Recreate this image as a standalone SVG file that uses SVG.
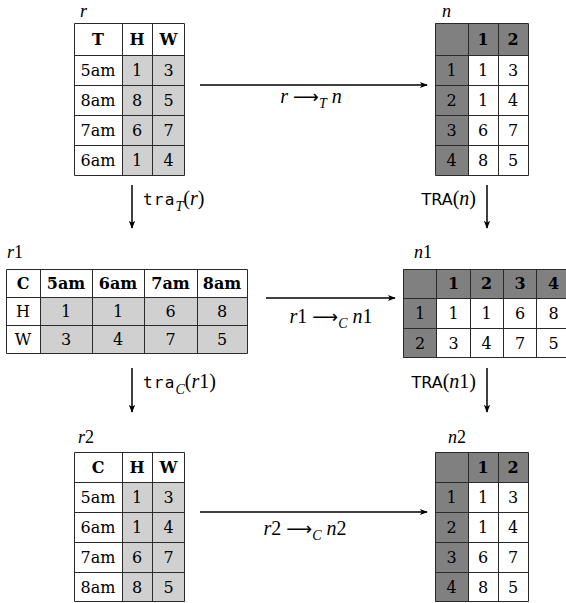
<svg xmlns="http://www.w3.org/2000/svg" width="566" height="603" viewBox="0 0 566 603">
<style>
.bg{fill:#ffffff}
.lt{fill:#d0d0d0}
.dk{fill:#808080}
.grid{fill:none;stroke:#2a2a2a;stroke-width:1}
.c{font-family:"DejaVu Serif","Liberation Serif",serif;font-size:16px;fill:#000;text-anchor:middle}
.b{font-weight:bold}
.m{font-family:"Liberation Serif","DejaVu Serif",serif;font-size:20px;fill:#000}
.i{font-style:italic}
.sub{font-size:14px;font-style:italic}
.ar{font-family:"DejaVu Sans",sans-serif;font-size:18px}
.sf{font-family:"DejaVu Sans","Liberation Sans",sans-serif;font-size:16px}
.tt{font-family:"DejaVu Sans Mono","Liberation Mono",monospace;font-size:16px;letter-spacing:1.2px}
.arr{stroke:#000;stroke-width:1.5;fill:none}
</style>
<defs>
<marker id="ah" viewBox="0 0 10 10" refX="9" refY="5" markerWidth="8" markerHeight="8" markerUnits="userSpaceOnUse" orient="auto">
<path d="M0,1 L10,5 L0,9 L2.5,5 Z" fill="#000"/>
</marker>
</defs>

<g id="r">
<text class="m i" x="80" y="17" style="font-size:18px">r</text>
<rect class="bg" x="74" y="23" width="111" height="152"/>
<rect class="lt" x="122" y="55" width="63" height="120"/>
<path class="grid" d="M74.5,23.5H184.5V175.5H74.5Z M74.5,55.5H184.5 M74.5,85.5H184.5 M74.5,115.5H184.5 M74.5,145.5H184.5 M122.5,23.5V175.5 M152.5,23.5V175.5"/>
<text class="c b" x="98" y="45">T</text><text class="c b" x="137" y="45">H</text><text class="c b" x="168.5" y="45">W</text>
<text class="c" x="98" y="76">5am</text><text class="c" x="137" y="76">1</text><text class="c" x="168.5" y="76">3</text>
<text class="c" x="98" y="106">8am</text><text class="c" x="137" y="106">8</text><text class="c" x="168.5" y="106">5</text>
<text class="c" x="98" y="136">7am</text><text class="c" x="137" y="136">6</text><text class="c" x="168.5" y="136">7</text>
<text class="c" x="98" y="166">6am</text><text class="c" x="137" y="166">1</text><text class="c" x="168.5" y="166">4</text>
</g>

<g id="n">
<text class="m i" x="442" y="17" style="font-size:18px">n</text>
<rect class="bg" x="435" y="23" width="93" height="152"/>
<rect class="dk" x="435" y="23" width="93" height="32"/>
<rect class="dk" x="435" y="55" width="33" height="120"/>
<path class="grid" d="M435.5,23.5H528.5V175.5H435.5Z M435.5,55.5H528.5 M435.5,85.5H528.5 M435.5,115.5H528.5 M435.5,145.5H528.5 M468.5,23.5V175.5 M498.5,23.5V175.5"/>
<text class="c b" x="483" y="45">1</text><text class="c b" x="513" y="45">2</text>
<text class="c" x="451.5" y="76">1</text><text class="c" x="483" y="76">1</text><text class="c" x="513" y="76">3</text>
<text class="c" x="451.5" y="106">2</text><text class="c" x="483" y="106">1</text><text class="c" x="513" y="106">4</text>
<text class="c" x="451.5" y="136">3</text><text class="c" x="483" y="136">6</text><text class="c" x="513" y="136">7</text>
<text class="c" x="451.5" y="166">4</text><text class="c" x="483" y="166">8</text><text class="c" x="513" y="166">5</text>
</g>

<g id="r1">
<text class="m" x="7" y="258" style="font-size:18px"><tspan class="i">r</tspan>1</text>
<rect class="bg" x="6" y="269" width="241" height="84"/>
<rect class="lt" x="40" y="297" width="207" height="56"/>
<path class="grid" d="M6.5,269.5H247.5V353.5H6.5Z M6.5,297.5H247.5 M6.5,325.5H247.5 M40.5,269.5V353.5 M92.5,269.5V353.5 M144.5,269.5V353.5 M197.5,269.5V353.5"/>
<text class="c b" x="23" y="289">C</text><text class="c b" x="66" y="289">5am</text><text class="c b" x="118" y="289">6am</text><text class="c b" x="170.5" y="289">7am</text><text class="c b" x="222" y="289">8am</text>
<text class="c" x="23" y="317">H</text><text class="c" x="66" y="317">1</text><text class="c" x="118" y="317">1</text><text class="c" x="170.5" y="317">6</text><text class="c" x="222" y="317">8</text>
<text class="c" x="23" y="345">W</text><text class="c" x="66" y="345">3</text><text class="c" x="118" y="345">4</text><text class="c" x="170.5" y="345">7</text><text class="c" x="222" y="345">5</text>
</g>

<g id="n1">
<text class="m" x="414" y="258" style="font-size:18px"><tspan class="i">n</tspan>1</text>
<rect class="bg" x="403" y="269" width="167" height="89"/>
<rect class="dk" x="403" y="269" width="167" height="29"/>
<rect class="dk" x="403" y="298" width="34" height="60"/>
<path class="grid" d="M570.5,269.5H403.5V357.5H570.5 M403.5,298.5H570.5 M403.5,328.5H570.5 M436.5,269.5V357.5 M470.5,269.5V357.5 M503.5,269.5V357.5 M536.5,269.5V357.5"/>
<text class="c b" x="453.5" y="289">1</text><text class="c b" x="486.5" y="289">2</text><text class="c b" x="520" y="289">3</text><text class="c b" x="553.5" y="289">4</text>
<text class="c" x="420" y="319">1</text><text class="c" x="453.5" y="319">1</text><text class="c" x="486.5" y="319">1</text><text class="c" x="520" y="319">6</text><text class="c" x="553.5" y="319">8</text>
<text class="c" x="420" y="348.5">2</text><text class="c" x="453.5" y="348.5">3</text><text class="c" x="486.5" y="348.5">4</text><text class="c" x="520" y="348.5">7</text><text class="c" x="553.5" y="348.5">5</text>
</g>

<g id="r2">
<text class="m" x="78" y="443" style="font-size:18px"><tspan class="i">r</tspan>2</text>
<rect class="bg" x="74" y="452" width="111" height="150"/>
<rect class="lt" x="122" y="482" width="63" height="120"/>
<path class="grid" d="M74.5,452.5H184.5V601.5H74.5Z M74.5,482.5H184.5 M74.5,512.5H184.5 M74.5,542.5H184.5 M74.5,572.5H184.5 M122.5,452.5V601.5 M152.5,452.5V601.5"/>
<text class="c b" x="98" y="473">C</text><text class="c b" x="137" y="473">H</text><text class="c b" x="168.5" y="473">W</text>
<text class="c" x="98" y="503">5am</text><text class="c" x="137" y="503">1</text><text class="c" x="168.5" y="503">3</text>
<text class="c" x="98" y="533">6am</text><text class="c" x="137" y="533">1</text><text class="c" x="168.5" y="533">4</text>
<text class="c" x="98" y="563">7am</text><text class="c" x="137" y="563">6</text><text class="c" x="168.5" y="563">7</text>
<text class="c" x="98" y="593">8am</text><text class="c" x="137" y="593">8</text><text class="c" x="168.5" y="593">5</text>
</g>

<g id="n2">
<text class="m" x="448" y="443" style="font-size:18px"><tspan class="i">n</tspan>2</text>
<rect class="bg" x="435" y="452" width="93" height="150"/>
<rect class="dk" x="435" y="452" width="93" height="30"/>
<rect class="dk" x="435" y="482" width="33" height="120"/>
<path class="grid" d="M435.5,452.5H528.5V601.5H435.5Z M435.5,482.5H528.5 M435.5,512.5H528.5 M435.5,542.5H528.5 M435.5,572.5H528.5 M468.5,452.5V601.5 M498.5,452.5V601.5"/>
<text class="c b" x="483" y="473">1</text><text class="c b" x="513" y="473">2</text>
<text class="c" x="451.5" y="503">1</text><text class="c" x="483" y="503">1</text><text class="c" x="513" y="503">3</text>
<text class="c" x="451.5" y="533">2</text><text class="c" x="483" y="533">1</text><text class="c" x="513" y="533">4</text>
<text class="c" x="451.5" y="563">3</text><text class="c" x="483" y="563">6</text><text class="c" x="513" y="563">7</text>
<text class="c" x="451.5" y="593">4</text><text class="c" x="483" y="593">8</text><text class="c" x="513" y="593">5</text>
</g>

<g id="connectors">
<line class="arr" x1="200" y1="85" x2="427" y2="85" marker-end="url(#ah)"/>
<text class="m" x="311" y="103" text-anchor="middle"><tspan class="i">r</tspan> <tspan class="ar">⟶</tspan><tspan class="sub" dy="5">T</tspan><tspan dy="-5"> </tspan><tspan class="i">n</tspan></text>

<line class="arr" x1="266" y1="298" x2="395" y2="298" marker-end="url(#ah)"/>
<text class="m" x="331" y="323" text-anchor="middle"><tspan class="i">r</tspan>1 <tspan class="ar">⟶</tspan><tspan class="sub" dy="5">C</tspan><tspan dy="-5"> </tspan><tspan class="i">n</tspan>1</text>

<line class="arr" x1="200" y1="512" x2="427" y2="512" marker-end="url(#ah)"/>
<text class="m" x="305" y="535" text-anchor="middle"><tspan class="i">r</tspan>2 <tspan class="ar">⟶</tspan><tspan class="sub" dy="5">C</tspan><tspan dy="-5"> </tspan><tspan class="i">n</tspan>2</text>

<line class="arr" x1="132" y1="185" x2="132" y2="228" marker-end="url(#ah)"/>
<text class="m" x="143" y="205"><tspan class="tt">tra</tspan><tspan class="sub" dy="6">T</tspan><tspan dy="-6">(</tspan><tspan class="i">r</tspan>)</text>

<line class="arr" x1="487" y1="185" x2="487" y2="228" marker-end="url(#ah)"/>
<text class="m" x="476" y="205" text-anchor="end"><tspan class="sf">TRA</tspan>(<tspan class="i">n</tspan>)</text>

<line class="arr" x1="132" y1="368" x2="132" y2="412" marker-end="url(#ah)"/>
<text class="m" x="143" y="388"><tspan class="tt">tra</tspan><tspan class="sub" dy="6">C</tspan><tspan dy="-6">(</tspan><tspan class="i">r</tspan>1)</text>

<line class="arr" x1="487" y1="368" x2="487" y2="412" marker-end="url(#ah)"/>
<text class="m" x="476" y="388" text-anchor="end"><tspan class="sf">TRA</tspan>(<tspan class="i">n</tspan>1)</text>
</g>
</svg>
